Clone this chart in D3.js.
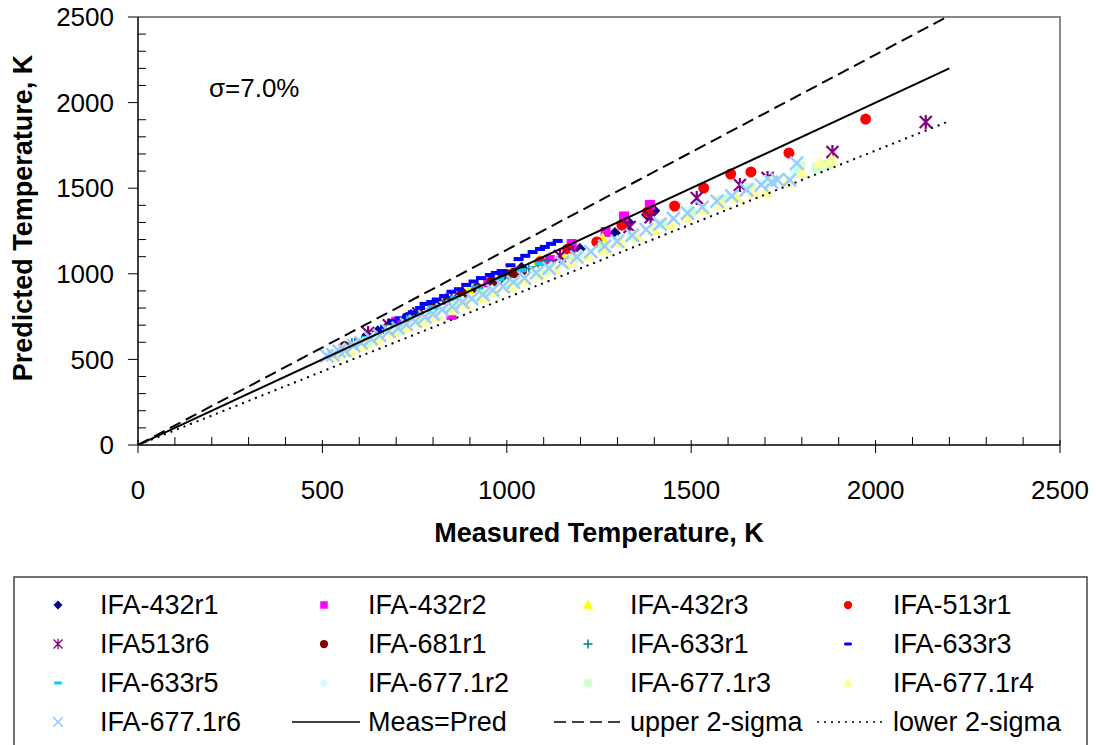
<!DOCTYPE html>
<html lang="en">
<head>
<meta charset="utf-8">
<title>Measured vs predicted temperature</title>
<script src="https://cdn.jsdelivr.net/npm/d3@7"></script>
<style>
 body { margin: 0; background: #fff; }
 text { font-family: Arial, "Liberation Sans", sans-serif; }
</style>
</head>
<body>
<div id="graph"></div>
<script>

// ---- data (measured K, predicted K) ----
const ifa432r1 = [[650,665],[740,760],[805,824],[880,890],[960,960],[1040,1035],[1198,1145],[1293,1238],[1330,1300],[1380,1345],[1400,1368]];
const ifa432r2 = [[700,720],[850,760],[950,950],[1116,1081],[1176,1174],[1268,1244],[1318,1335],[1388,1402]];
const ifa432r3 = [[620,630],[760,770],[900,910],[1000,1000],[1089,1081],[1150,1110],[1260,1200]];
const ifa513r1 = [[1030,1010],[1090,1070],[1165,1145],[1244,1186],[1312,1285],[1382,1361],[1455,1396],[1534,1501],[1607,1583],[1662,1595],[1765,1706],[1973,1904]];
const ifa513r6 = [[624,654],[680,700],[760,770],[850,850],[1000,975],[1144,1104],[1180,1125],[1333,1273],[1390,1330],[1515,1443],[1632,1519],[1707,1560],[1883,1711],[2136,1887]];
const ifa681r1 = [[560,575],[620,630],[680,690],[730,745],[760,765],[800,800],[840,840],[880,880],[920,915],[960,955],[990,985],[1000,995],[1020,1005],[1040,1015]];
const ifa633r1 = [[580,590],[640,640],[700,700],[760,770],[840,840],[920,915],[1000,980],[1060,1030],[1080,1040],[1110,1080]];
const ifa633r3 = [[600,612],[625,640],[653,660],[670,690],[689,724],[710,740],[731,754],[745,775],[765,800],[777,824],[795,835],[810,850],[830,870],[850,895],[870,910],[890,935],[910,955],[930,975],[954,993],[970,1005],[986,1016],[1010,1050],[1032,1086],[1050,1105],[1070,1127],[1090,1145],[1103,1157],[1120,1175],[1138,1192]];
const ifa633r5 = [[560,570],[620,625],[680,690],[740,745],[800,805],[860,860],[920,920],[980,970],[1040,1020],[1090,1060]];
const ifa6771r2 = [[520,530],[560,565],[600,598],[640,630],[680,668],[720,700],[760,735],[800,770],[840,805],[880,840],[920,870],[960,905],[1000,940],[1040,975],[1080,1010],[1120,1040],[1200,1112],[1300,1195],[1400,1280],[1500,1370],[1600,1450],[1700,1545],[1780,1600]];
const ifa6771r3 = [[560,545],[620,600],[700,668],[780,740],[860,815],[940,880],[1020,945],[1100,1018],[1180,1090],[1260,1155],[1340,1222],[1420,1292],[1500,1362],[1580,1430],[1660,1500],[1720,1540],[1795,1624],[1840,1620],[1871,1636]];
const ifa6771r4 = [[540,520],[575,555],[610,580],[650,615],[690,650],[730,685],[770,718],[810,752],[850,787],[890,820],[930,855],[970,890],[1010,922],[1050,958],[1090,992],[1130,1025],[1175,1063],[1220,1100],[1265,1140],[1310,1180],[1355,1215],[1400,1255],[1445,1290],[1490,1330],[1535,1370],[1580,1405],[1625,1440],[1670,1470],[1705,1478],[1760,1530],[1800,1589],[1849,1647],[1880,1665]];
const ifa6771r6 = [[512,520],[528,528],[545,548],[560,552],[585,580],[605,596],[632,622],[655,640],[680,665],[705,683],[728,705],[752,722],[778,748],[800,765],[825,790],[852,808],[880,835],[905,855],[935,878],[962,905],[990,925],[1018,952],[1048,975],[1080,1005],[1115,1032],[1150,1065],[1190,1098],[1228,1130],[1265,1162],[1300,1190],[1340,1225],[1378,1258],[1415,1290],[1452,1322],[1490,1355],[1530,1390],[1570,1425],[1610,1455],[1650,1490],[1690,1520],[1718,1536],[1734,1548],[1767,1548],[1786,1647]];

const measPred = [[0,0],[2200,2200]];
const upper2Sigma = [[0,0],[2200,2508]];
const lower2Sigma = [[0,0],[2200,1892]];

const axisTicks = [0, 500, 1000, 1500, 2000, 2500];
const minorTicks = d3.range(0, 2501, 100);

// name, data, marker kind, colour
const series = [
  ["IFA-432r1", ifa432r1, "diamond", "#000080"],
  ["IFA-432r2", ifa432r2, "square", "#ff00ff"],
  ["IFA-432r3", ifa432r3, "triangle", "#ffff00"],
  ["IFA-513r1", ifa513r1, "circle", "#ff0000"],
  ["IFA513r6", ifa513r6, "star", "#800080"],
  ["IFA-681r1", ifa681r1, "circle", "#800000"],
  ["IFA-633r1", ifa633r1, "plus", "#008080"],
  ["IFA-633r3", ifa633r3, "dash", "#0000ff"],
  ["IFA-633r5", ifa633r5, "dash", "#00ccff"],
  ["IFA-677.1r2", ifa6771r2, "diamond", "#ccffff"],
  ["IFA-677.1r3", ifa6771r3, "square", "#ccffcc"],
  ["IFA-677.1r4", ifa6771r4, "triangle", "#ffff99"],
  ["IFA-677.1r6", ifa6771r6, "x", "#99ccff"]
];
const lines = [
  ["Meas=Pred", measPred, null],
  ["upper 2-sigma", upper2Sigma, "12,6"],
  ["lower 2-sigma", lower2Sigma, "2,5"]
];

// ---- layout ----
const W = 1096, H = 745;
const margin = {top: 17, left: 138, right: 36, bottom: 300};
const width = 1060 - margin.left;
const height = 445 - margin.top;

const svg = d3.select("#graph").append("svg")
  .attr("width", W).attr("height", H);

const x = d3.scaleLinear().domain([0, 2500]).range([0, width]);
const y = d3.scaleLinear().domain([0, 2500]).range([height, 0]);

const g = svg.append("g").attr("transform", `translate(${margin.left},${margin.top})`);

g.append("clipPath").attr("id", "plotclip")
  .append("rect").attr("width", width).attr("height", height);

// plot area frame (grey top/right)
g.append("path")
  .attr("d", `M0,0H${width}V${height}`)
  .attr("fill", "none").attr("stroke", "#888").attr("stroke-width", 2);

// marker drawing
function marker(sel, kind, color, s, sw) {
  sw = sw || 1;
  if (kind === "diamond") {
    sel.append("path").attr("d", `M0,${-6*s}L${6*s},0L0,${6*s}L${-6*s},0Z`).attr("fill", color);
  } else if (kind === "square") {
    sel.append("rect").attr("x", -5*s).attr("y", -5*s).attr("width", 10*s).attr("height", 10*s).attr("fill", color);
  } else if (kind === "triangle") {
    sel.append("path").attr("d", `M0,${-7*s}L${7*s},${5*s}L${-7*s},${5*s}Z`).attr("fill", color);
  } else if (kind === "circle") {
    sel.append("circle").attr("r", 5.5*s).attr("fill", color);
  } else if (kind === "dash") {
    sel.append("rect").attr("x", -5*s).attr("y", -2*s).attr("width", 10*s).attr("height", 4*s).attr("fill", color);
  } else if (kind === "plus") {
    sel.append("path").attr("d", `M${-6*s},0H${6*s}M0,${-6*s}V${6*s}`).attr("stroke", color).attr("stroke-width", 1.5);
  } else if (kind === "x") {
    sel.append("path").attr("d", `M${-6.5*s},${-6.5*s}L${6.5*s},${6.5*s}M${-6.5*s},${6.5*s}L${6.5*s},${-6.5*s}`)
      .attr("stroke", color).attr("stroke-width", 2.5 * sw);
  } else if (kind === "star") {
    sel.append("path").attr("d", `M${-6*s},${-6*s}L${6*s},${6*s}M${-6*s},${6*s}L${6*s},${-6*s}M0,${-7*s}V${7*s}`)
      .attr("stroke", color).attr("stroke-width", 2.2 * sw);
  }
}

// scatter series
const plot = g.append("g").attr("clip-path", "url(#plotclip)");
series.forEach(([name, data, kind, color]) => {
  plot.append("g").selectAll("g").data(data).enter().append("g")
    .attr("transform", d => `translate(${x(d[0])},${y(d[1])})`)
    .each(function () { marker(d3.select(this), kind, color, 1); });
});

// reference lines
const line = d3.line().x(d => x(d[0])).y(d => y(d[1]));
lines.forEach(([name, data, dash]) => {
  plot.append("path").attr("d", line(data))
    .attr("fill", "none").attr("stroke", "#000").attr("stroke-width", 2)
    .attr("stroke-dasharray", dash);
});

// axes
const yAxis = g.append("g");
yAxis.append("line").attr("y1", 0).attr("y2", height).attr("stroke", "#000").attr("stroke-width", 1.5);
yAxis.selectAll(".mn").data(minorTicks).enter().append("line")
  .attr("x1", 0).attr("x2", d => axisTicks.includes(d) ? -10 : 8)
  .attr("y1", d => y(d)).attr("y2", d => y(d))
  .attr("stroke", "#000").attr("stroke-width", 1);
yAxis.selectAll("text").data(axisTicks).enter().append("text")
  .attr("x", -24).attr("y", d => y(d)).attr("dy", "0.35em")
  .attr("text-anchor", "end").attr("font-size", 26).text(d => d);

const xAxis = g.append("g").attr("transform", `translate(0,${height})`);
xAxis.append("line").attr("x1", 0).attr("x2", width).attr("stroke", "#000").attr("stroke-width", 1.5);
xAxis.selectAll(".mn").data(minorTicks).enter().append("line")
  .attr("x1", d => x(d)).attr("x2", d => x(d))
  .attr("y1", d => axisTicks.includes(d) ? 8 : 0).attr("y2", d => axisTicks.includes(d) ? -5 : -8)
  .attr("stroke", "#000").attr("stroke-width", 1);
xAxis.selectAll("text").data(axisTicks).enter().append("text")
  .attr("x", d => x(d)).attr("y", 54)
  .attr("text-anchor", "middle").attr("font-size", 26).text(d => d);

// axis titles
svg.append("text")
  .attr("x", 599).attr("y", 542)
  .attr("text-anchor", "middle").attr("font-size", 27).attr("font-weight", "bold")
  .text("Measured Temperature, K");
svg.append("text")
  .attr("transform", "translate(32,218) rotate(-90)")
  .attr("text-anchor", "middle").attr("font-size", 27).attr("font-weight", "bold")
  .text("Predicted Temperature, K");

// sigma note
svg.append("text").attr("x", 209).attr("y", 97).attr("font-size", 26).text("σ=7.0%");

// legend
const leg = svg.append("g");
leg.append("rect").attr("x", 14).attr("y", 577).attr("width", 1073).attr("height", 180)
  .attr("fill", "#fff").attr("stroke", "#444").attr("stroke-width", 1.5);
const colMarker = [58, 324, 588, 848];
const colText = [100, 368, 630, 893];
const rowY = [605, 644, 683, 722];
series.forEach(([name, data, kind, color], i) => {
  const c = i % 4, r = Math.floor(i / 4);
  const item = leg.append("g").attr("transform", `translate(${colMarker[c]},${rowY[r]})`);
  marker(item, kind, color, 0.75, 0.6);
  leg.append("text").attr("x", colText[c]).attr("y", rowY[r]).attr("dy", "0.35em")
    .attr("font-size", 27).text(name);
});
lines.forEach(([name, data, dash], j) => {
  const i = series.length + j;
  const c = i % 4, r = Math.floor(i / 4);
  leg.append("line").attr("x1", colText[c] - 76).attr("x2", colText[c] - 8)
    .attr("y1", rowY[r]).attr("y2", rowY[r])
    .attr("stroke", "#000").attr("stroke-width", 1.5).attr("stroke-dasharray", dash);
  leg.append("text").attr("x", colText[c]).attr("y", rowY[r]).attr("dy", "0.35em")
    .attr("font-size", 27).text(name);
});
</script>
</body>
</html>
